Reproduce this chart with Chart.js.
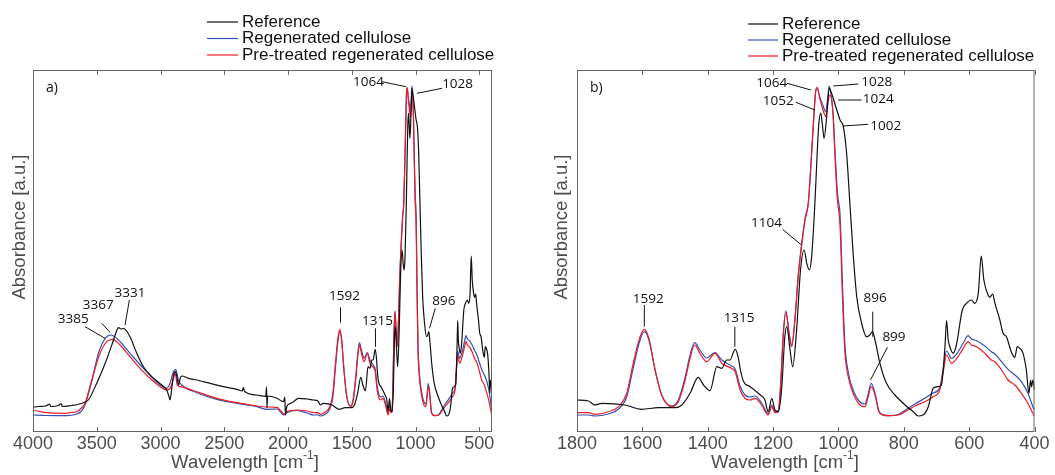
<!DOCTYPE html>
<html>
<head>
<meta charset="utf-8">
<script src="https://cdn.jsdelivr.net/npm/chart.js@4.4.1/dist/chart.umd.min.js"></script>
<style>
  body { margin: 0; background: #fff; }
  #wrap { position: relative; width: 1055px; height: 475px; }
  canvas { position: absolute; top: 0; }
</style>
</head>
<body>
<div id="wrap">
  <canvas id="chartA" width="530" height="475" style="left:0"></canvas>
  <canvas id="chartB" width="525" height="475" style="left:530px"></canvas>
</div>
<script>
// series names
const seriesNames = ['Reference', 'Regenerated cellulose', 'Pre-treated regenerated cellulose'];

// Reference
const refWn = [4000,3960,3900,3870,3860,3800,3780,3770,3700,3650,3600,3566,3500,3434,3382,3350,3330,3310,3290,3277,3239,3186,3134,3068,2990,2951,2935,2925,2915,2904,2890,2883,2870,2859,2845,2833,2781,2715,2611,2506,2401,2360,2350,2340,2244,2200,2175,2168,2165,2160,2087,2035,2025,2020,2010,1990,1957,1918,1850,1800,1765,1745,1724,1653,1602,1551,1500,1479,1454,1429,1413,1393,1372,1357,1342,1332,1316,1306,1300,1290,1270,1239,1225,1215,1204,1194,1184,1174,1164,1158,1148,1140,1128,1116,1105,1097,1089,1082,1072,1065,1060,1054,1049,1044,1036,1028,1021,1008,995,985,975,965,955,944,929,914,904,896,888,873,853,827,796,771,756,741,725,710,695,685,674,669,664,659,649,639,621,608,593,583,572,563,555,542,537,528,521,506,496,486,470,460,453,445,435,425,417,412,409,405,400];
const refAbs = [.247,.255,.26,.28,.255,.265,.285,.255,.265,.275,.295,.32,.487,.687,.87,.99,1.043,1.03,1.035,1.027,.953,.787,.653,.553,.47,.42,.36,.32,.40,.52,.60,.603,.54,.47,.54,.56,.537,.52,.487,.453,.427,.41,.445,.405,.37,.36,.355,.45,.24,.36,.337,.303,.35,.17,.253,.28,.303,.337,.33,.32,.31,.27,.287,.27,.227,.243,.243,.27,.387,.547,.47,.413,.653,.637,.72,.72,.827,.737,.62,.503,.453,.37,.32,.203,.337,.22,.203,.42,.953,1.053,.82,.653,1.02,1.62,1.82,1.687,1.62,1.753,2.287,2.787,3.08,3.19,3.07,2.937,3.153,3.437,3.387,3.253,3.12,3.053,2.787,2.287,1.787,1.353,1.087,.953,.97,1.003,.92,.687,.487,.37,.27,.203,.16,.17,.253,.437,.453,.47,.853,1.113,.92,.853,.787,.87,1.22,1.287,1.32,1.287,1.387,1.76,1.52,1.37,1.347,1.38,1.287,1.12,.987,.953,.793,.747,.853,.837,.787,.62,.387,.52,.453,.52,.42];

// Regenerated cellulose
const regWn = [4000,3900,3762,3657,3620,3592,3540,3487,3434,3388,3330,3239,3134,3003,2951,2925,2899,2880,2860,2833,2715,2558,2401,2244,2170,2087,2030,2009,1930,1850,1800,1765,1745,1704,1673,1648,1628,1607,1594,1580,1561,1541,1510,1490,1469,1454,1440,1424,1403,1378,1357,1327,1316,1301,1286,1270,1255,1235,1215,1204,1194,1184,1177,1169,1161,1150,1143,1133,1123,1113,1102,1092,1085,1077,1069,1065,1057,1047,1039,1031,1028,1022,1015,1009,1002,995,987,980,970,955,934,919,909,900,888,878,873,848,817,787,766,736,710,690,680,669,654,634,618,603,593,577,552,532,521,501,481,460,440,420,405,400];
const regAbs = [.17,.165,.163,.18,.21,.27,.503,.787,.937,.97,.92,.787,.637,.47,.437,.487,.603,.627,.52,.47,.393,.327,.287,.253,.227,.23,.17,.193,.215,.19,.17,.17,.16,.18,.23,.35,.64,.92,1.003,.92,.62,.37,.26,.32,.55,.77,.893,.82,.74,.795,.72,.66,.63,.46,.37,.35,.36,.29,.185,.27,.205,.215,.47,.97,1.21,.97,.87,1.14,1.57,1.87,2.14,2.30,2.64,3.07,3.42,3.437,3.35,3.26,3.203,3.40,3.46,3.36,3.12,2.72,2.36,2.17,1.42,.87,.60,.42,.30,.28,.38,.487,.39,.23,.19,.163,.175,.237,.28,.337,.39,.44,.62,.81,.737,.80,.89,.963,.93,.913,.86,.803,.78,.703,.627,.57,.503,.387,.253,.22];

// Pre-treated regenerated cellulose
const preWn = [4000,3893,3762,3700,3657,3620,3592,3539,3474,3422,3375,3317,3239,3160,3082,3003,2951,2925,2904,2886,2868,2846,2794,2715,2558,2401,2244,2170,2087,2030,2009,1930,1850,1800,1765,1745,1704,1673,1648,1628,1607,1594,1580,1561,1541,1510,1490,1469,1454,1440,1424,1403,1378,1357,1327,1316,1301,1286,1270,1255,1235,1215,1204,1194,1184,1177,1169,1161,1150,1143,1133,1123,1113,1102,1092,1085,1077,1069,1065,1057,1047,1039,1031,1026,1018,1011,1004,995,987,980,970,955,934,919,909,900,888,878,873,848,817,787,766,736,710,690,680,669,654,634,618,603,593,577,552,532,521,501,481,460,440,420,405,400];
const preAbs = [.22,.193,.187,.195,.203,.24,.287,.52,.787,.903,.927,.87,.753,.637,.537,.453,.42,.437,.503,.587,.47,.453,.437,.403,.337,.293,.26,.25,.247,.18,.203,.22,.21,.193,.193,.177,.203,.253,.387,.687,.953,1.027,.937,.62,.37,.253,.303,.52,.737,.87,.787,.703,.787,.687,.637,.603,.42,.337,.32,.337,.27,.17,.253,.193,.203,.453,.953,1.203,.953,.853,1.12,1.553,1.853,2.12,2.287,2.62,3.053,3.42,3.447,3.337,3.22,3.153,3.32,3.37,3.253,2.787,2.353,2.053,1.287,.787,.553,.387,.27,.253,.353,.453,.37,.22,.187,.163,.17,.22,.26,.303,.353,.42,.587,.77,.687,.753,.837,.903,.87,.853,.787,.72,.703,.62,.52,.47,.387,.287,.187,.16];

// tick labels
const ticksA = [4000, 3500, 3000, 2500, 2000, 1500, 1000, 500];
const ticksB = [1800, 1600, 1400, 1200, 1000, 800, 600, 400];

// peak labels (text centre + leader line, in wavenumber / absorbance)
const notesA = [
  {t: '3385', x: 3684, y: 1.127, l: [3592, 1.053, 3435, 0.937]},
  {t: '3367', x: 3488, y: 1.27, l: [3461, 1.087, 3396, 0.997]},
  {t: '3331', x: 3239, y: 1.393, l: [3244, 1.32, 3278, 1.07]},
  {t: '1592', x: 1557, y: 1.36, l: [1588, 1.247, 1588, 1.093]},
  {t: '1315', x: 1298, y: 1.113, l: [1314, 1.037, 1314, 0.853]},
  {t: '896', x: 777, y: 1.31, l: [845, 1.237, 890, 1.037]},
  {t: '1064', x: 1369, y: 3.503, l: [1263, 3.503, 1075, 3.453]},
  {t: '1028', x: 670, y: 3.48, l: [792, 3.437, 989, 3.387]}
];
const notesB = [
  {t: '1064', x: 1204, y: 3.487, l: [1157, 3.487, 1084, 3.42]},
  {t: '1052', x: 1184, y: 3.31, l: [1130, 3.297, 1072, 3.22]},
  {t: '1028', x: 883, y: 3.497, l: [939, 3.48, 1016, 3.46]},
  {t: '1024', x: 878, y: 3.327, l: [929, 3.32, 1001, 3.32]},
  {t: '1002', x: 855, y: 3.063, l: [909, 3.077, 985, 3.06]},
  {t: '1104', x: 1220, y: 2.093, l: [1171, 2.027, 1113, 1.87]},
  {t: '1592', x: 1582, y: 1.327, l: [1594, 1.27, 1594, 1.053]},
  {t: '1315', x: 1304, y: 1.137, l: [1317, 1.053, 1317, 0.853]},
  {t: '896', x: 888, y: 1.337, l: [895, 1.203, 895, 0.953]},
  {t: '899', x: 830, y: 0.953, l: [850, 0.847, 902, 0.52]}
];

const AXIS_FONT = '"Liberation Sans", Arial, sans-serif';
const NOTE_FONT = '"Open Sans", "Noto Sans", sans-serif';
const GREY = '#4d4d4d';

function pts(wn, ab) {
  return wn.map((w, i) => ({x: w, y: ab[i]}));
}

// frame, ticks, titles, legend and peak labels
const decor = {
  id: 'decor',
  afterDraw(chart, args, o) {
    const {ctx, chartArea: a, scales: {x, y}} = chart;
    ctx.save();
    ctx.strokeStyle = '#666';
    ctx.lineWidth = 1;
    ctx.strokeRect(a.left + 0.5, a.top + 0.5, a.right - a.left - 1, a.bottom - a.top - 1);
    ctx.beginPath();
    o.ticks.forEach(v => {
      const px = Math.round(x.getPixelForValue(v)) + 0.5;
      ctx.moveTo(px, a.bottom); ctx.lineTo(px, a.bottom - 5);
      ctx.moveTo(px, a.top); ctx.lineTo(px, a.top + 5);
    });
    ctx.stroke();

    // axis titles
    ctx.fillStyle = GREY;
    ctx.textBaseline = 'middle';
    ctx.font = '18.5px ' + AXIS_FONT;
    ctx.save();
    ctx.translate(o.yTitleX, 227);
    ctx.rotate(-Math.PI / 2);
    ctx.textAlign = 'center';
    ctx.fillText('Absorbance [a.u.]', 0, 0);
    ctx.restore();

    const t1 = 'Wavelength [cm', t2 = '-1', t3 = ']';
    const w1 = ctx.measureText(t1).width, w3 = ctx.measureText(t3).width;
    ctx.font = '12px ' + AXIS_FONT;
    const w2 = ctx.measureText(t2).width;
    let sx = o.xTitleX - (w1 + w2 + w3) / 2;
    ctx.textAlign = 'left';
    ctx.font = '18.5px ' + AXIS_FONT;
    ctx.fillText(t1, sx, 463);
    ctx.font = '12px ' + AXIS_FONT;
    ctx.fillText(t2, sx + w1, 456);
    ctx.font = '18.5px ' + AXIS_FONT;
    ctx.fillText(t3, sx + w1 + w2, 463);

    // legend
    ctx.font = '17px ' + AXIS_FONT;
    chart.data.datasets.forEach((ds, i) => {
      const ly = o.legend.ys[i];
      ctx.strokeStyle = ds.borderColor;
      ctx.lineWidth = 1.2;
      ctx.beginPath();
      ctx.moveTo(o.legend.x1, ly); ctx.lineTo(o.legend.x2, ly);
      ctx.stroke();
      ctx.fillStyle = '#111';
      ctx.fillText(ds.label, o.legend.tx, ly);
    });

    // panel letter and peak labels
    ctx.fillStyle = '#111';
    ctx.strokeStyle = '#111';
    ctx.lineWidth = 1;
    ctx.font = '14px ' + NOTE_FONT;
    ctx.fillText(o.panel, a.left + 13, a.top + 18);
    ctx.font = '13.5px ' + NOTE_FONT;
    ctx.textAlign = 'center';
    o.notes.forEach(n => {
      ctx.fillText(n.t, x.getPixelForValue(n.x), y.getPixelForValue(n.y));
      ctx.beginPath();
      ctx.moveTo(x.getPixelForValue(n.l[0]), y.getPixelForValue(n.l[1]));
      ctx.lineTo(x.getPixelForValue(n.l[2]), y.getPixelForValue(n.l[3]));
      ctx.stroke();
    });
    ctx.restore();
  }
};

function makeChart(id, xmin, xmax, tickVals, pad, deco) {
  return new Chart(document.getElementById(id), {
    type: 'line',
    data: {
      datasets: [
        {label: seriesNames[0], data: pts(refWn, refAbs), borderColor: '#111111', order: 0},
        {label: seriesNames[1], data: pts(regWn, regAbs), borderColor: '#3450b4', order: 2},
        {label: seriesNames[2], data: pts(preWn, preAbs), borderColor: '#ee1c24', order: 1}
      ]
    },
    options: {
      responsive: false,
      animation: false,
      elements: {
        point: {radius: 0},
        line: {borderWidth: 1.2, cubicInterpolationMode: 'monotone'}
      },
      layout: {padding: pad},
      plugins: {legend: {display: false}, tooltip: {enabled: false}, decor: deco},
      scales: {
        x: {
          type: 'linear',
          reverse: true,
          min: xmin,
          max: xmax,
          grid: {display: false, drawTicks: false},
          border: {display: false},
          afterBuildTicks: s => { s.ticks = tickVals.map(v => ({value: v})); },
          afterFit: s => { s.height = 43; },
          ticks: {
            autoSkip: false,
            maxRotation: 0,
            padding: 1,
            color: GREY,
            font: {family: AXIS_FONT, size: 18},
            callback: v => String(v)
          }
        },
        y: {display: false, min: 0, max: 3.62}
      }
    },
    plugins: [decor]
  });
}

makeChart('chartA', 400, 4000, ticksA, {left: 33, top: 70, right: 38, bottom: 0}, {
  ticks: ticksA, yTitleX: 20, xTitleX: 245, panel: 'a)', notes: notesA,
  legend: {x1: 207, x2: 238, tx: 242, ys: [22, 38.5, 55]}
});
makeChart('chartB', 400, 1800, ticksB, {left: 47, top: 70, right: 20.5, bottom: 0}, {
  ticks: ticksB, yTitleX: 31.7, xTitleX: 255, panel: 'b)', notes: notesB,
  legend: {x1: 218, x2: 248, tx: 252, ys: [24, 40, 56]}
});
</script>
</body>
</html>
